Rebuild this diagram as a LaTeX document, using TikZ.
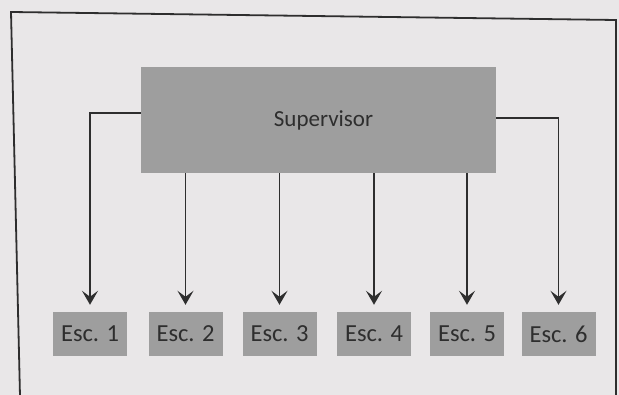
\documentclass[tikz,border=0pt]{standalone}
\usepackage{fontspec}
\setmainfont{Carlito}
\usetikzlibrary{arrows.meta}
\definecolor{paper}{HTML}{E9E7E8}
\definecolor{boxgray}{HTML}{9E9E9E}
\definecolor{ink}{HTML}{2E2E2E}
\begin{document}
\begin{tikzpicture}[x=1pt,y=-1pt,
  supbox/.style={fill=boxgray,draw=none,minimum width=355pt,minimum height=106pt,inner sep=0pt,font=\fontsize{23}{25}\selectfont,text=ink},
  escbox/.style={fill=boxgray,draw=none,minimum width=74pt,minimum height=44pt,inner sep=0pt,font=\fontsize{24.5}{26}\selectfont,text=ink},
  conn/.style={draw=ink,line width=1.8pt,-{Stealth[length=14pt,width=16pt,inset=6pt]},shorten >=7pt},
  frameline/.style={draw=ink,line width=1.8pt}]
\fill[paper] (0,0) rectangle (619,395);
\useasboundingbox (0,0) rectangle (619,395);
\draw[frameline] (20,396) -- (11,12) -- (616,20) -- (616,396);
\node[supbox] (sup) at (318.5,120) {\hspace*{10pt}Supervisor};
\node[escbox] (e1) at (90,334) {Esc. 1};
\node[escbox] (e2) at (185.5,334) {Esc. 2};
\node[escbox] (e3) at (279.5,334) {Esc. 3};
\node[escbox] (e4) at (374,334) {Esc. 4};
\node[escbox] (e5) at (467,334) {Esc. 5};
\node[escbox] (e6) at (558.5,334) {Esc. 6};
\draw[conn] ([yshift=7pt]sup.west) -| (e1);
\draw[conn] (sup.south -| e2) -- (e2);
\draw[conn] (sup.south -| e3) -- (e3);
\draw[conn] (sup.south -| e4) -- (e4);
\draw[conn] (sup.south -| e5) -- (e5);
\draw[conn] ([yshift=2pt]sup.east) -| (e6);
\end{tikzpicture}
\end{document}
